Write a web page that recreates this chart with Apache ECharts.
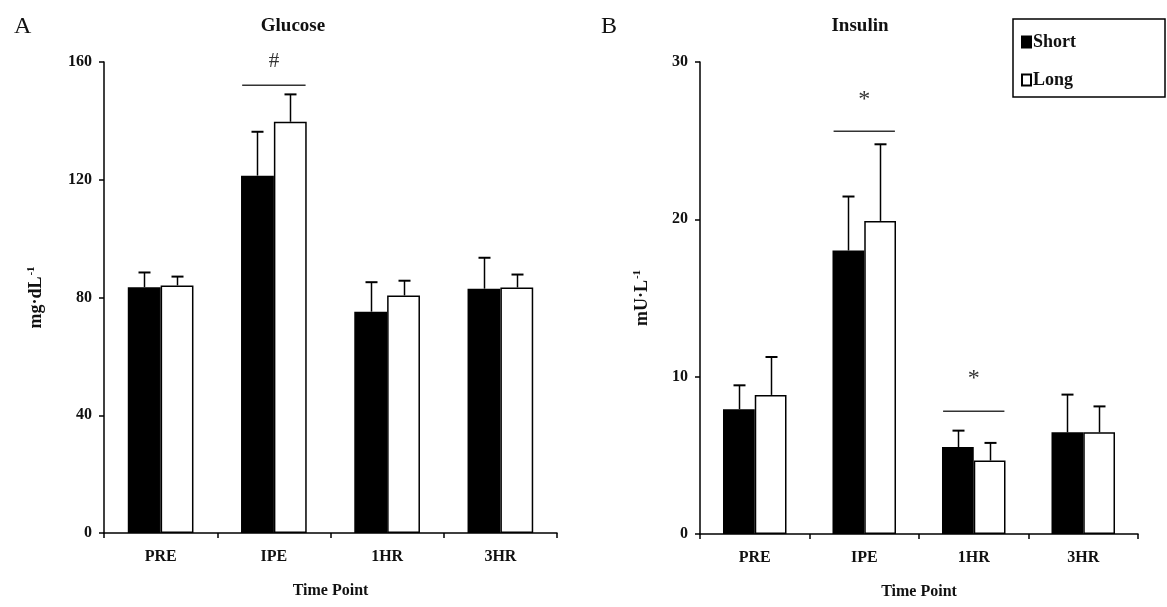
<!DOCTYPE html>
<html>
<head>
<meta charset="utf-8">
<script src="https://cdn.jsdelivr.net/npm/echarts@6/dist/echarts.min.js"></script>
<style>html,body{margin:0;padding:0;background:#fff}#c{width:1167px;height:607px}</style>
</head>
<body>
<div id="c"></div>
<script>
const categories = ['PRE', 'IPE', '1HR', '3HR'];
const seriesNames = ['Short', 'Long'];
const glucoseShort = [83.5, 121.4, 75.2, 83.0];
const glucoseLong = [84.1, 139.7, 80.7, 83.4];
const glucoseShortErr = [88.5, 136.3, 85.2, 93.5];
const glucoseLongErr = [87.1, 149.0, 85.7, 87.8];
const insulinShort = [7.93, 18.02, 5.53, 6.46];
const insulinLong = [8.84, 19.9, 4.67, 6.46];
const insulinShortErr = [9.45, 21.45, 6.57, 8.86];
const insulinLongErr = [11.25, 24.77, 5.79, 8.11];
const glucoseTicks = {min: 0, max: 160, interval: 40};
const insulinTicks = {min: 0, max: 30, interval: 10};
// significance marks: [categoryIndex, lineValue, symbolValue, symbol]
const glucoseSig = [[1, 152.1, 160.3, '#']];
const insulinSig = [[1, 25.6, 27.6, '*'], [2, 7.8, 9.9, '*']];

const FONT = '"Liberation Serif", "Times New Roman", serif';
const BAR_W = 0.29;

function errSeries(xi, tops, errs, side) {
  return {
    type: 'custom', xAxisIndex: xi, yAxisIndex: xi, silent: true, z: 5,
    data: categories.map((c, i) => [i, tops[i], errs[i]]),
    renderItem: function (params, api) {
      const band = api.size([1, 0])[0];
      const off = band * BAR_W / 2 * side;
      const p0 = api.coord([api.value(0), api.value(1)]);
      const p1 = api.coord([api.value(0), api.value(2)]);
      const x = Math.round(p0[0] + off) + 0.5;
      return {
        type: 'group', children: [
          {type: 'line', shape: {x1: x, y1: p0[1], x2: x, y2: p1[1]}, style: {stroke: '#000', lineWidth: 1.5}},
          {type: 'line', shape: {x1: x - 6, y1: p1[1], x2: x + 6, y2: p1[1]}, style: {stroke: '#000', lineWidth: 2}}
        ]
      };
    }
  };
}

function sigSeries(xi, sig) {
  return {
    type: 'custom', xAxisIndex: xi, yAxisIndex: xi, silent: true, z: 6, clip: false,
    data: sig,
    renderItem: function (params, api) {
      const band = api.size([1, 0])[0];
      const half = band * 0.28;
      const pl = api.coord([api.value(0), api.value(1)]);
      const ps = api.coord([api.value(0), api.value(2)]);
      const sym = sig[params.dataIndex][3];
      return {
        type: 'group', children: [
          {type: 'line', shape: {x1: pl[0] - half, y1: pl[1], x2: pl[0] + half, y2: pl[1]}, style: {stroke: '#333', lineWidth: 1.5}},
          {type: 'text', x: ps[0], y: ps[1], style: {text: sym, fill: '#333', font: (sym === '#' ? '21px ' : '24px ') + FONT, align: 'center', verticalAlign: 'middle'}}
        ]
      };
    }
  };
}

function barSeries(xi, name, data, color) {
  return {
    type: 'bar', name: name, xAxisIndex: xi, yAxisIndex: xi, data: data,
    barWidth: (BAR_W * 100) + '%', barGap: '0%',
    itemStyle: {color: color, borderColor: '#000', borderWidth: 1.5},
    emphasis: {disabled: true}
  };
}

const axisLabelStyle = {fontFamily: FONT, fontWeight: 'bold', fontSize: 16, color: '#111'};

function yAxis(gi, ticks, unit) {
  return Object.assign({
    type: 'value', gridIndex: gi,
    splitLine: {show: false},
    axisLine: {show: true, lineStyle: {color: '#000', width: 1.5}},
    axisTick: {show: true, length: 5, lineStyle: {color: '#000', width: 1.5}},
    axisLabel: Object.assign({margin: 12}, axisLabelStyle),
    name: unit + '{sup|-1}',
    nameLocation: 'middle', nameRotate: 90,
    nameGap: gi === 0 ? 58 : 48,
    nameTextStyle: {fontFamily: FONT, fontWeight: 'bold', fontSize: 18, color: '#111',
      rich: {sup: {fontFamily: FONT, fontWeight: 'bold', fontSize: 11, color: '#111', verticalAlign: 'top', padding: [0, 0, 9, 1]}}}
  }, ticks);
}

function xAxis(gi) {
  return {
    type: 'category', gridIndex: gi, data: categories,
    axisLine: {show: true, lineStyle: {color: '#000', width: 1.5}},
    axisTick: {show: true, length: 5, lineStyle: {color: '#000', width: 1.5}},
    axisLabel: Object.assign({margin: 16}, axisLabelStyle),
    name: 'Time Point', nameLocation: 'middle', nameGap: 50,
    nameTextStyle: {fontFamily: FONT, fontWeight: 'bold', fontSize: 16, color: '#111'}
  };
}

const chart = echarts.init(document.getElementById('c'), null, {renderer: 'canvas'});
chart.setOption({
  backgroundColor: '#fff',
  animation: false,
  title: [
    {text: 'Glucose', left: 288, top: 12, textAlign: 'center', textStyle: {fontFamily: FONT, fontWeight: 'bold', fontSize: 19, color: '#111'}},
    {text: 'Insulin', left: 855, top: 12, textAlign: 'center', textStyle: {fontFamily: FONT, fontWeight: 'bold', fontSize: 19, color: '#111'}},
    {text: 'A', left: 9, top: 10, textStyle: {fontFamily: FONT, fontWeight: 'normal', fontSize: 24, color: '#111'}},
    {text: 'B', left: 596, top: 10, textStyle: {fontFamily: FONT, fontWeight: 'normal', fontSize: 24, color: '#111'}}
  ],
  legend: {
    data: seriesNames, orient: 'vertical', left: 1013, top: 19,
    padding: [14, 89, 8, 8], itemGap: 20,
    borderColor: '#000', borderWidth: 1.5, borderRadius: 0,
    itemWidth: 9, itemHeight: 11, icon: 'rect',
    selectedMode: false,
    textStyle: {fontFamily: FONT, fontWeight: 'bold', fontSize: 18, color: '#111', padding: [0, 0, 0, -3]}
  },
  grid: [
    {left: 104, top: 62, width: 453, height: 471},
    {left: 700, top: 62, width: 438, height: 472}
  ],
  xAxis: [xAxis(0), xAxis(1)],
  yAxis: [yAxis(0, glucoseTicks, 'mg·dL'), yAxis(1, insulinTicks, 'mU·L')],
  series: [
    barSeries(0, 'Short', glucoseShort, '#000'),
    barSeries(0, 'Long', glucoseLong, '#fff'),
    barSeries(1, 'Short', insulinShort, '#000'),
    barSeries(1, 'Long', insulinLong, '#fff'),
    errSeries(0, glucoseShort, glucoseShortErr, -1),
    errSeries(0, glucoseLong, glucoseLongErr, 1),
    errSeries(1, insulinShort, insulinShortErr, -1),
    errSeries(1, insulinLong, insulinLongErr, 1),
    sigSeries(0, glucoseSig),
    sigSeries(1, insulinSig)
  ]
});
</script>
</body>
</html>
